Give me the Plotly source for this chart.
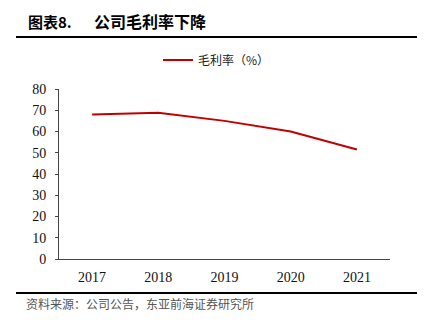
import plotly.graph_objects as go

years = ["2017", "2018", "2019", "2020", "2021"]
gross_margin = [68.0, 68.8, 65.0, 60.0, 51.5]
series_name = "毛利率（%）"
title_left = "图表8."
title_right = "公司毛利率下降"
source_text = "资料来源：公司公告，东亚前海证券研究所"

W, H = 431, 323
L, R, T, B = 59, 41, 89, 64
pw, ph = W - L - R, H - T - B

def px(x):
    return (x - L) / pw

def py(y):
    return (H - B - y) / ph

fig = go.Figure()
fig.add_trace(go.Scatter(
    x=years, y=gross_margin, mode="lines", name=series_name,
    line=dict(color="#C00000", width=2),
))

cjk = "Noto Sans CJK SC"
fig.update_layout(
    width=W, height=H,
    margin=dict(l=L, r=R, t=T, b=B),
    paper_bgcolor="white", plot_bgcolor="white",
    showlegend=True,
    legend=dict(orientation="h", x=px(158), xanchor="left", y=py(60), yanchor="middle",
                font=dict(family=cjk, size=12, color="#222"), bgcolor="rgba(0,0,0,0)"),
    xaxis=dict(type="category", range=[-0.5, 4.5], showline=True, linecolor="#444",
               linewidth=1, ticks="", showgrid=False, zeroline=False, ticklabelstandoff=5,
               tickfont=dict(family="Liberation Serif", size=14, color="#111")),
    yaxis=dict(range=[0, 80], dtick=10, showline=True, linecolor="#444", linewidth=1,
               ticks="outside", ticklen=3, tickcolor="#444", showgrid=False, zeroline=False,
               ticklabelstandoff=6,
               tickfont=dict(family="Liberation Serif", size=14, color="#111")),
    shapes=[
        dict(type="line", xref="paper", yref="paper", x0=px(16), x1=px(417), y0=py(37), y1=py(37),
             line=dict(color="black", width=2)),
        dict(type="line", xref="paper", yref="paper", x0=px(16), x1=px(417), y0=py(293), y1=py(293),
             line=dict(color="black", width=2)),
    ],
    annotations=[
        dict(text="<b>" + title_left + "</b>", xref="paper", yref="paper", x=px(26), y=py(21),
             xanchor="left", yanchor="middle", showarrow=False,
             font=dict(family=cjk, size=15, color="black")),
        dict(text="<b>" + title_right + "</b>", xref="paper", yref="paper", x=px(92), y=py(21),
             xanchor="left", yanchor="middle", showarrow=False,
             font=dict(family=cjk, size=16, color="black")),
        dict(text=source_text, xref="paper", yref="paper", x=px(24), y=py(303),
             xanchor="left", yanchor="middle", showarrow=False,
             font=dict(family=cjk, size=12, color="#555")),
    ],
)

fig.write_html("out.html")
